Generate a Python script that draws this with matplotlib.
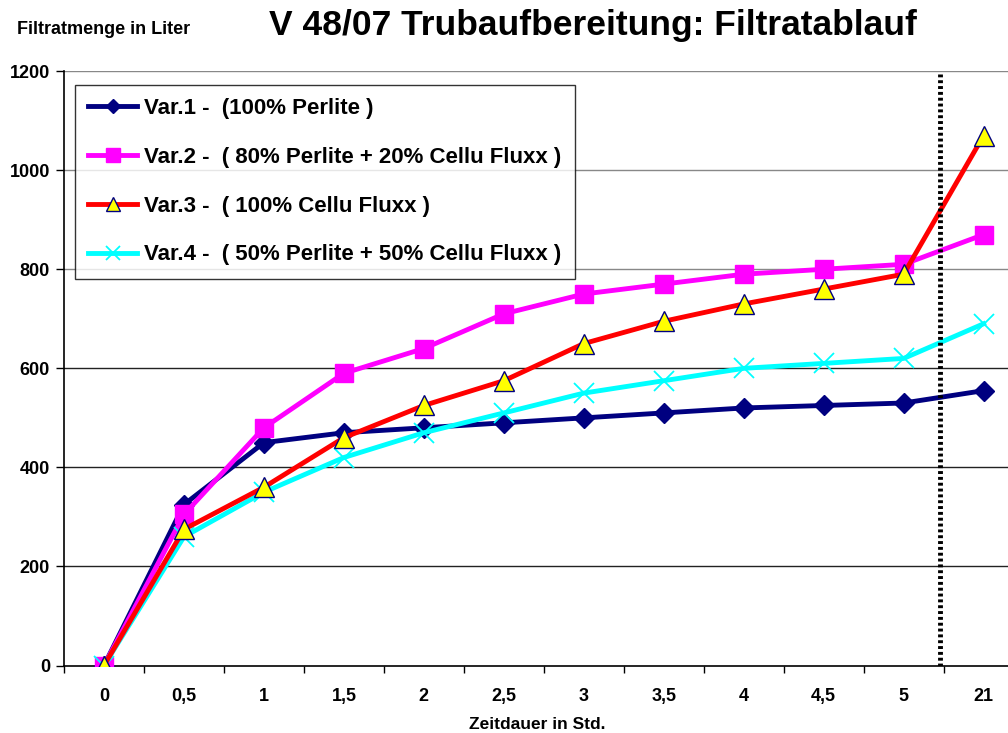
import matplotlib.pyplot as plt

plt.rcParams['font.family'] = ['Liberation Sans', 'DejaVu Sans']
plt.rcParams['font.weight'] = 'bold'

# Zeitpunkte (Kategorien auf der x-Achse)
zeit_labels = ['0', '0,5', '1', '1,5', '2', '2,5', '3', '3,5', '4', '4,5', '5', '21']

# Filtratmenge in Liter je Variante
var1 = [0, 325, 450, 470, 480, 490, 500, 510, 520, 525, 530, 555]
var2 = [0, 305, 480, 590, 640, 710, 750, 770, 790, 800, 810, 870]
var3 = [0, 275, 360, 460, 525, 575, 650, 695, 730, 760, 790, 1070]
var4 = [0, 260, 350, 420, 470, 510, 550, 575, 600, 610, 620, 690]

namen = ['Var.1 -  (100% Perlite )',
         'Var.2 -  ( 80% Perlite + 20% Cellu Fluxx )',
         'Var.3 -  ( 100% Cellu Fluxx )',
         'Var.4 -  ( 50% Perlite + 50% Cellu Fluxx )']

y_ticks = [0, 200, 400, 600, 800, 1000, 1200]

fig = plt.figure(figsize=(10.08, 7.33), dpi=100)
ax = fig.add_axes([0.0635, 0.092, 0.952, 0.811])

x = list(range(len(zeit_labels)))

# horizontale Gitterlinien
for yv in y_ticks[1:]:
    farbe = '#888888' if yv >= 800 else '#222222'
    ax.axhline(yv, color=farbe, lw=1.0, zorder=0)

ax.plot(x, var1, color='#000080', lw=3.5, marker='D', ms=10,
        markerfacecolor='#000080', markeredgecolor='#000080', label=namen[0], zorder=3)
ax.plot(x, var2, color='#FF00FF', lw=3.5, marker='s', ms=13,
        markerfacecolor='#FF00FF', markeredgecolor='#FF00FF', label=namen[1], zorder=3)
ax.plot(x, var3, color='#FF0000', lw=3.5, marker='^', ms=14,
        markerfacecolor='#FFFF00', markeredgecolor='#000080', markeredgewidth=1.0,
        label=namen[2], zorder=4)
ax.plot(x, var4, color='#00FFFF', lw=3.5, marker='x', ms=14, markeredgewidth=1.3,
        markeredgecolor='#00FFFF', label=namen[3], zorder=3)

# gepunktete Trennlinie zwischen 5 und 21 Std.
ax.axvline(10.45, ymin=0, ymax=0.995, color='black', lw=3.5, linestyle=(0, (0.6, 0.6)), zorder=5)

ax.set_xlim(-0.5, 11.5)
ax.set_ylim(0, 1200)
ax.set_yticks(y_ticks)
ax.set_yticklabels([str(v) for v in y_ticks], fontsize=13, fontweight='bold')
ax.set_xticks(x)
ax.set_xticklabels(zeit_labels, fontsize=13, fontweight='bold')
ax.set_xticks([i - 0.5 for i in range(len(zeit_labels) + 1)], minor=True)
ax.tick_params(axis='x', which='major', length=0, pad=16)
ax.tick_params(axis='x', which='minor', length=5, width=1, direction='out')
ax.tick_params(axis='y', length=6, width=1, direction='out', pad=4)

ax.spines['top'].set_visible(False)
ax.spines['right'].set_visible(False)
ax.spines['left'].set_linewidth(1.2)
ax.spines['bottom'].set_linewidth(1.2)

leg = ax.legend(loc='upper left', bbox_to_anchor=(0.0115, 0.977),
                prop={'weight': 'bold', 'size': 16}, frameon=True, fancybox=False,
                handlelength=2.2, handletextpad=0.3, labelspacing=1.25,
                borderpad=0.6, borderaxespad=0, markerscale=0.75)
leg.get_frame().set_edgecolor('black')
leg.get_frame().set_linewidth(1.0)

fig.text(0.588, 0.965, 'V 48/07 Trubaufbereitung: Filtratablauf', ha='center',
         va='center', fontsize=25.5, fontweight='bold')
fig.text(0.017, 0.96, 'Filtratmenge in Liter', ha='left', va='center',
         fontsize=13, fontweight='bold')
fig.text(0.533, 0.011, 'Zeitdauer in Std.', ha='center', va='center',
         fontsize=12.5, fontweight='bold')

fig.savefig('out.png', dpi=100)
